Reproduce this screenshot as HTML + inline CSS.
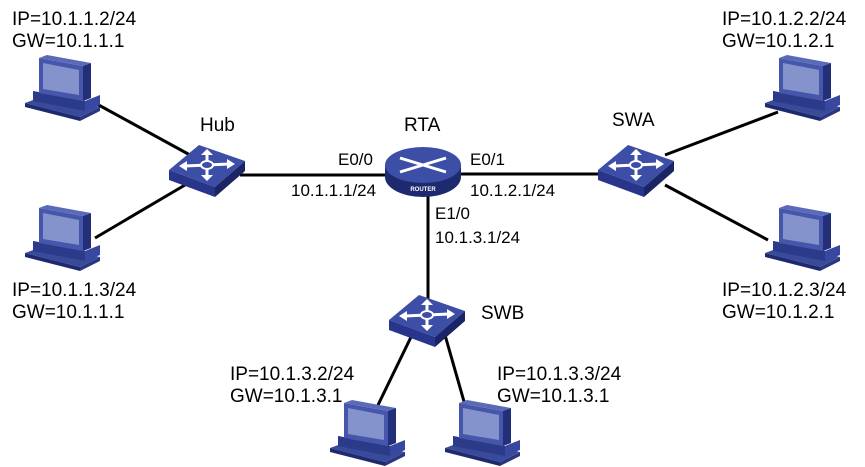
<!DOCTYPE html>
<html><head><style>body{margin:0;background:#fff}svg{display:block}text{font-family:"Liberation Sans",Arial,sans-serif;font-size:17px;fill:#000}.b{font-size:19px}</style></head><body>
<svg width="865" height="467" viewBox="0 0 865 467">
<defs>
<g id="pc">
<polygon points="0,48 22,40 75,52 55,62" fill="#3a4a9a"/>
<polygon points="0,48 55,62 55,66 0,52" fill="#1e2a70"/>
<polygon points="55,62 75,52 75,56 55,66" fill="#2a3680"/>
<polygon points="8,36 60,46 75,40 75,50 60,56 8,46" fill="#3848a0"/>
<polygon points="8,36 60,46 60,56 8,46" fill="#2c3a8a"/>
<polygon points="14,3 58,11 58,46 14,38" fill="#4656aa"/>
<polygon points="18,8 54,15 54,40 18,34" fill="#8593cc"/>
<polygon points="14,3 22,0 66,8 58,11" fill="#5a6ab8"/>
<polygon points="58,11 66,8 66,43 58,46" fill="#232f78"/>
</g>
<g id="sw">
<polygon points="-38,5 -8,-20 38,-4 8,22" fill="#3d4ea6"/>
<polygon points="-38,5 8,22 8,32 -38,15" fill="#28358a"/>
<polygon points="8,22 38,-4 38,6 8,32" fill="#1b2566"/>
<g stroke="#fff" stroke-width="3" fill="none">
<line x1="-22" y1="1" x2="22" y2="-1"/><line x1="0" y1="-12" x2="0" y2="12"/>
</g>
<g fill="#fff"><polygon points="-28,1 -20,-4 -20,6"/><polygon points="28,-1 20,-6 20,4"/><polygon points="0,-16 -6,-10 6,-10"/><polygon points="0,16 -6,10 6,10"/></g>
<ellipse cx="0" cy="0" rx="6" ry="4" fill="#3d4ea6" stroke="#fff" stroke-width="2"/>
</g>
</defs>
<g stroke="#000" stroke-width="3">
<line x1="95" y1="103" x2="190" y2="155"/>
<line x1="95" y1="238" x2="185" y2="185"/>
<line x1="240" y1="175" x2="390" y2="175"/>
<line x1="455" y1="174" x2="605" y2="174"/>
<line x1="665" y1="155" x2="778" y2="112"/>
<line x1="665" y1="185" x2="768" y2="240"/>
<line x1="428" y1="195" x2="428" y2="300"/>
<line x1="412" y1="335" x2="378" y2="405"/>
<line x1="445" y1="335" x2="465" y2="405"/>
</g>
<use href="#pc" x="25" y="55"/>
<use href="#pc" x="25" y="205"/>
<use href="#pc" x="765" y="55"/>
<use href="#pc" x="765" y="205"/>
<use href="#pc" x="330" y="400"/>
<use href="#pc" x="445" y="400"/>
<use href="#sw" x="207" y="165"/>
<use href="#sw" x="636" y="165"/>
<use href="#sw" x="427" y="315"/>
<g>
<path d="M385,165 v12 a38,20 0 0 0 76,0 v-12 z" fill="#1e2a70"/>
<ellipse cx="423" cy="165" rx="38" ry="18" fill="#3d4ea6"/>
<g stroke="#fff" stroke-width="3" fill="none"><line x1="400" y1="158" x2="446" y2="172"/><line x1="400" y1="172" x2="446" y2="158"/></g>
<text x="423" y="191" text-anchor="middle" style="font-size:6px;fill:#fff;font-weight:bold">ROUTER</text>
</g>
<g class="b">
<text class="b" x="12" y="25">IP=10.1.1.2/24</text><text class="b" x="12" y="47">GW=10.1.1.1</text>
<text class="b" x="12" y="296">IP=10.1.1.3/24</text><text class="b" x="12" y="318">GW=10.1.1.1</text>
<text class="b" x="722" y="25">IP=10.1.2.2/24</text><text class="b" x="722" y="47">GW=10.1.2.1</text>
<text class="b" x="722" y="296">IP=10.1.2.3/24</text><text class="b" x="722" y="318">GW=10.1.2.1</text>
<text class="b" x="230" y="380">IP=10.1.3.2/24</text><text class="b" x="230" y="402">GW=10.1.3.1</text>
<text class="b" x="497" y="380">IP=10.1.3.3/24</text><text class="b" x="497" y="402">GW=10.1.3.1</text>
<text class="b" x="200" y="131">Hub</text>
<text class="b" x="404" y="131">RTA</text>
<text class="b" x="612" y="126">SWA</text>
<text class="b" x="481" y="319">SWB</text>
</g>
<text x="338" y="165">E0/0</text>
<text x="291" y="196">10.1.1.1/24</text>
<text x="470" y="165">E0/1</text>
<text x="470" y="196">10.1.2.1/24</text>
<text x="435" y="219">E1/0</text>
<text x="435" y="243">10.1.3.1/24</text>
</svg>
</body></html>
